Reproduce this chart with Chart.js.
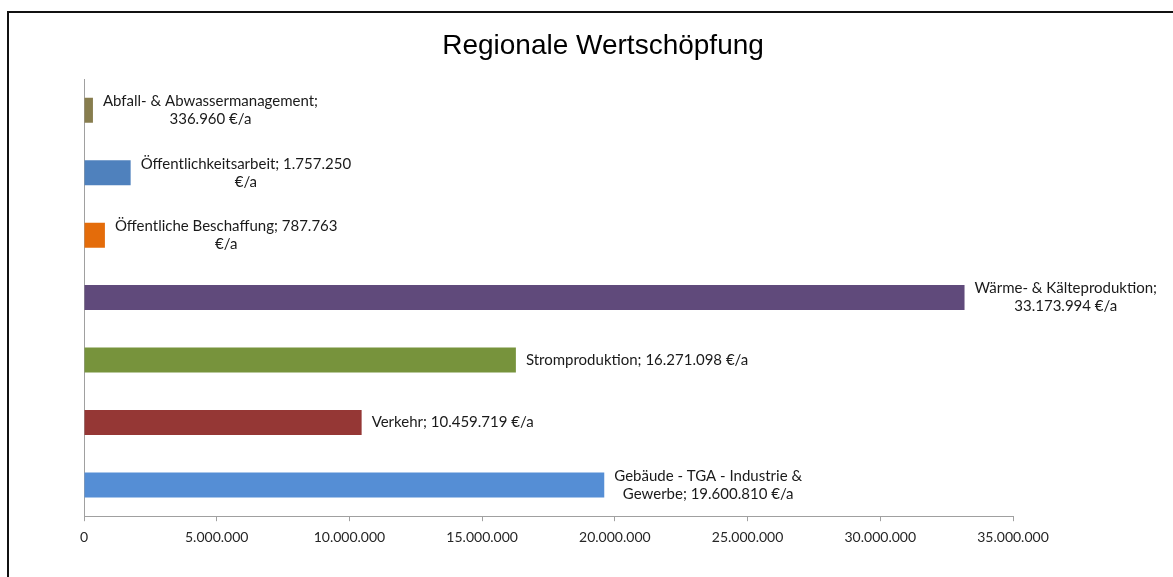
<!DOCTYPE html>
<html>
<head>
<meta charset="utf-8">
<title>Regionale Wertschöpfung</title>
<script src="https://cdn.jsdelivr.net/npm/chart.js@4/dist/chart.umd.min.js"></script>
<style>
  html, body { margin: 0; padding: 0; background: #fff; overflow: hidden; }
  #frame {
    position: absolute; left: 7px; top: 11px;
    width: 2000px; height: 2000px;
    border: 2px solid #111;
  }
  #wrap { position: absolute; left: 0; top: 0; width: 1173px; height: 577px; }
</style>
</head>
<body>
<div id="frame"></div>
<div id="wrap"><canvas id="chart"></canvas></div>
<script>
'use strict';

// ***** DATA *****
const chartTitle = 'Regionale Wertschöpfung';
const categories = [
  'Abfall- & Abwassermanagement',
  'Öffentlichkeitsarbeit',
  'Öffentliche Beschaffung',
  'Wärme- & Kälteproduktion',
  'Stromproduktion',
  'Verkehr',
  'Gebäude - TGA - Industrie & Gewerbe'
];
const values = [336960, 1757250, 787763, 33173994, 16271098, 10459719, 19600810];
const unit = '€/a';
const xTickValues = [0, 5000000, 10000000, 15000000, 20000000, 25000000, 30000000, 35000000];

// ***** STYLE *****
const barColors = ['#877D4E', '#4F81BD', '#E46C0A', '#604A7B', '#77933C', '#953735', '#558ED5'];
const labelFont = '15px Lato';
const axisColor = '#a0a0a0';

// ***** HELPERS *****
function formatNumber(n) {
  return String(Math.round(n)).replace(/\B(?=(\d{3})+(?!\d))/g, '.');
}

function wrapText(ctx, text, maxWidth) {
  let words = text.split(' ');
  let lines = [];
  let line = '';
  for (let i = 0; i < words.length; i++) {
    let test = line ? line + ' ' + words[i] : words[i];
    if (line && ctx.measureText(test).width > maxWidth) {
      lines.push(line);
      line = words[i];
    } else {
      line = test;
    }
  }
  lines.push(line);
  return lines;
}

// ***** PLUGINS *****
const titlePlugin = {
  id: 'titlePlugin',
  afterDraw(chart) {
    const ctx = chart.ctx;
    ctx.save();
    ctx.font = '28px "Liberation Sans", Arial, sans-serif';
    ctx.fillStyle = '#000';
    ctx.textAlign = 'center';
    ctx.textBaseline = 'alphabetic';
    ctx.fillText(chartTitle, 603, 54);
    ctx.restore();
  }
};

const barLabelPlugin = {
  id: 'barLabelPlugin',
  afterDatasetsDraw(chart) {
    const ctx = chart.ctx;
    const meta = chart.getDatasetMeta(0);
    ctx.save();
    ctx.font = labelFont;
    ctx.fillStyle = '#1a1a1a';
    ctx.textAlign = 'center';
    ctx.textBaseline = 'middle';
    // wrap width scaled to the font in use (reference wraps around 226px)
    const ratio = ctx.measureText('Stromproduktion; 16.271.098 €/a').width / 216;
    const maxWidth = 226 * ratio;
    const lineHeight = 18;
    meta.data.forEach((bar, i) => {
      let text = categories[i] + '; ' + formatNumber(values[i]) + ' ' + unit;
      let lines = wrapText(ctx, text, maxWidth);
      let blockWidth = Math.max(...lines.map(l => ctx.measureText(l).width));
      let cx = bar.x + 10 + blockWidth / 2;
      let y0 = bar.y - (lines.length - 1) * lineHeight / 2;
      lines.forEach((l, j) => ctx.fillText(l, cx, y0 + j * lineHeight));
    });
    ctx.restore();
  }
};

// ***** CHART *****
function renderChart() {
  const ctx = document.getElementById('chart').getContext('2d');

  let myChartData = {
    type: 'bar',
    data: {
      labels: categories,
      datasets: [{
        data: values,
        backgroundColor: barColors,
        borderWidth: 0,
        barPercentage: 0.4,
        categoryPercentage: 1
      }]
    },
    options: {
      indexAxis: 'y',
      responsive: false,
      animation: false,
      layout: {
        padding: { left: 84, right: 160, top: 79, bottom: 23 }
      },
      plugins: {
        legend: { display: false },
        title: { display: false },
        tooltip: { enabled: false }
      },
      scales: {
        x: {
          min: 0,
          max: 35000000,
          afterBuildTicks: (scale) => {
            scale.ticks = xTickValues.map(v => ({ value: v }));
          },
          grid: {
            drawOnChartArea: false,
            drawTicks: true,
            tickLength: 5,
            color: axisColor
          },
          border: { display: true, color: axisColor, width: 1 },
          ticks: {
            padding: 8,
            maxRotation: 0,
            color: '#262626',
            font: { family: 'Lato', size: 14 },
            callback: (v) => formatNumber(v)
          }
        },
        y: {
          grid: { display: false, drawTicks: false },
          border: { display: true, color: axisColor, width: 1 },
          ticks: { display: false }
        }
      }
    },
    plugins: [barLabelPlugin, titlePlugin]
  };

  let myChart = new Chart(ctx, myChartData); //eslint-disable-line
}

const canvas = document.getElementById('chart');
canvas.width = 1173;
canvas.height = 577;
canvas.style.width = '1173px';
canvas.style.height = '577px';
renderChart();
</script>
</body>
</html>
